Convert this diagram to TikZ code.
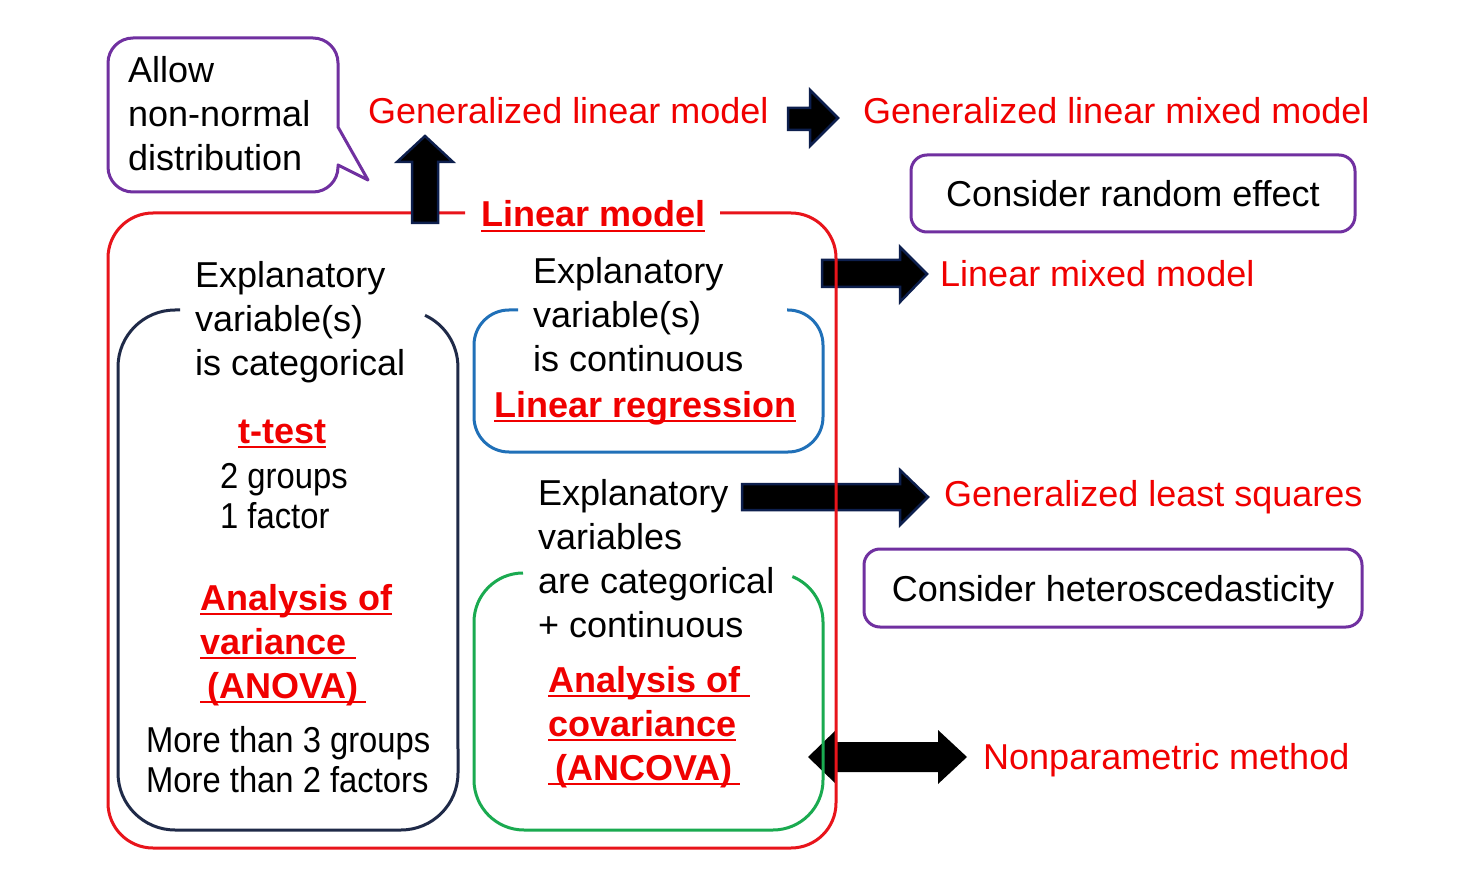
\documentclass[tikz,border=0pt]{standalone}
\usepackage{fontspec}
\setmainfont{Liberation Sans}
\newfontfamily\narrowfont{Liberation Sans}[FakeStretch=0.91]
\newcommand{\myul}[1]{\setbox0=\hbox{#1}\rlap{\rule[-5pt]{\wd0}{2pt}}\box0}
\definecolor{myred}{HTML}{F00000}
\definecolor{boxred}{HTML}{E8141B}
\definecolor{mypurple}{HTML}{7030A0}
\definecolor{mynavy}{HTML}{1F2A48}
\definecolor{myblue}{HTML}{2070B8}
\definecolor{mygreen}{HTML}{1AAA50}
\definecolor{arrownavy}{HTML}{0D1F4D}
\begin{document}
\begin{tikzpicture}[x=1pt,y=-1pt,
  txt/.style={inner sep=0pt, anchor=base west, align=left, font=\fontsize{36}{44}\selectfont, text=black},
  txtnarrow/.style={txt, font=\narrowfont\fontsize{36}{40}\selectfont},
  rtxt/.style={txt, text=myred},
  btxt/.style={txt, text=myred, font=\fontsize{36}{44}\selectfont\bfseries},
  blockarrow/.style={fill=black, draw=arrownavy, line width=2.5pt, line join=miter},
  plainarrow/.style={fill=black, draw=none},
  boxline/.style={line width=3pt, line join=round},
  considerbox/.style={draw=mypurple, line width=3pt, rounded corners=16pt, inner sep=0pt,
    text height=26pt, text depth=0pt, font=\fontsize{36}{44}\selectfont}]
\useasboundingbox (0,0) rectangle (1470,877);
\fill[white] (0,0) rectangle (1470,877);

% speech bubble
\draw[boxline, draw=mypurple] (133,38) -- (313,38) arc[start angle=-90,end angle=0,radius=25]
  -- (338,127) -- (368,180) -- (338,165) -- (338,167) arc[start angle=0,end angle=90,radius=25]
  -- (133,192) arc[start angle=90,end angle=180,radius=25]
  -- (108,63) arc[start angle=180,end angle=270,radius=25] -- cycle;
\node[txt] (allow) at (128,171) {Allow\\non-normal\\distribution};

% top labels
\node[rtxt] (glm) at (368,124) {Generalized linear model};
\node[rtxt] (glmm) at (863,124) {Generalized linear mixed model};
\node[considerbox, minimum width=444pt, minimum height=77pt] (random) at (1133,193.5) {Consider random effect};
\node[rtxt] (lmm) at (940,287) {Linear mixed model};
\node[rtxt] (gls) at (944,506) {Generalized least squares};
\node[considerbox, minimum width=498pt, minimum height=78pt] (hetero) at (1113,588) {Consider heteroscedasticity};
\node[rtxt] (nonpar) at (983,769) {Nonparametric method};

% block arrows (right)
\draw[blockarrow] (788,108) -- (810,108) -- (810,90) -- (838,118) -- (810,146) -- (810,130) -- (788,130) -- cycle;
\draw[blockarrow] (822,260) -- (900,260) -- (900,247) -- (927,274) -- (900,302) -- (900,287) -- (822,287) -- cycle;
\draw[blockarrow] (742,484) -- (900,484) -- (900,470) -- (928,497) -- (900,525) -- (900,510) -- (742,510) -- cycle;
\draw[plainarrow] (808,757) -- (836,730) -- (836,742) -- (938,742) -- (938,730) -- (967,757)
  -- (938,784) -- (938,772) -- (836,772) -- (836,784) -- cycle;

% red linear model box
\draw[boxline, draw=boxred] (465,213) -- (153,213) arc[start angle=270,end angle=180,radius=45]
  -- (108,803) arc[start angle=180,end angle=90,radius=45]
  -- (791,848) arc[start angle=90,end angle=0,radius=45]
  -- (836,258) arc[start angle=0,end angle=-90,radius=45] -- (720,213);
\node[btxt] (lm) at (481,227) {\myul{Linear model}};

% up arrow
\draw[blockarrow] (412,223) -- (412,162) -- (397,162) -- (425,136) -- (453,162) -- (438,162) -- (438,223) -- cycle;

% navy box (categorical)
\draw[boxline, draw=mynavy] (425,315.3) arc[start angle=-65,end angle=0,radius=57]
  -- (458,773) arc[start angle=0,end angle=90,radius=57]
  -- (175,830) arc[start angle=90,end angle=180,radius=57]
  -- (118,367) arc[start angle=180,end angle=270,radius=57] -- (180,310);
\node[txt] (cat) at (195,375) {Explanatory\\variable(s)\\is categorical};
\node[btxt] (ttest) at (238,443) {\myul{t-test}};
\node[txtnarrow] (twog) at (220,528) {2 groups\\1 factor};
\node[btxt] (anova) at (200,698) {\myul{Analysis of}\\\myul{variance\ }\\\myul{\hspace{7pt}(ANOVA)\hspace{7pt}}};
\node[txtnarrow] (more) at (146,792) {More than 3 groups\\More than 2 factors};

% blue box (continuous)
\draw[boxline, draw=myblue] (518,310) -- (509,310) arc[start angle=270,end angle=180,radius=35]
  -- (474,417) arc[start angle=180,end angle=90,radius=35]
  -- (788,452) arc[start angle=90,end angle=0,radius=35]
  -- (823,345) arc[start angle=0,end angle=-90,radius=35] -- (787,310);
\node[txt] (cont) at (533,371) {Explanatory\\variable(s)\\is continuous};
\node[btxt] (linreg) at (494,417) {\myul{Linear regression}};

% green box (ANCOVA)
\draw[boxline, draw=mygreen] (523,573) arc[start angle=270,end angle=180,radius=49]
  -- (474,780) arc[start angle=180,end angle=90,radius=50]
  -- (773,830) arc[start angle=90,end angle=0,radius=50]
  -- (823,622) arc[start angle=0,end angle=-68,radius=49];
\node[txt] (mix) at (538,637) {Explanatory\\variables\\are categorical\\+ continuous};
\node[btxt] (ancova) at (548,780) {\myul{Analysis of\ }\\\myul{covariance}\\\myul{\hspace{7pt}(ANCOVA)\hspace{7pt}}};
\end{tikzpicture}
\end{document}
